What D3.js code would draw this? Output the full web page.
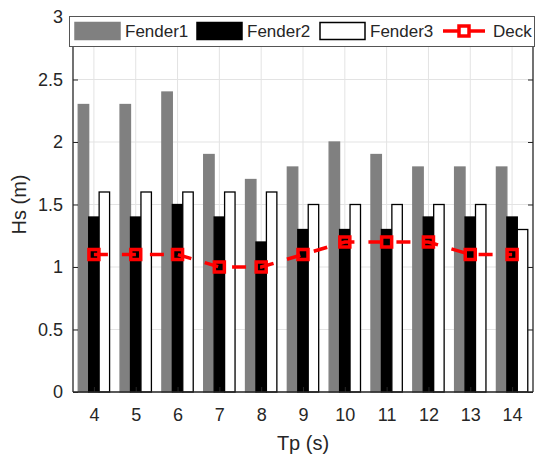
<!DOCTYPE html>
<html>
<head>
<meta charset="utf-8">
<script src="https://cdn.jsdelivr.net/npm/d3@7"></script>
<style>
  body { margin: 0; background: #fff; }
  text { font-family: "Liberation Sans", Arial, sans-serif; fill: #262626; }
</style>
</head>
<body>
<div id="chart"></div>
<script>
// values
const tp = [4, 5, 6, 7, 8, 9, 10, 11, 12, 13, 14];
const fender1 = [2.3, 2.3, 2.4, 1.9, 1.7, 1.8, 2.0, 1.9, 1.8, 1.8, 1.8];
const fender2 = [1.4, 1.4, 1.5, 1.4, 1.2, 1.3, 1.3, 1.3, 1.4, 1.4, 1.4];
const fender3 = [1.6, 1.6, 1.6, 1.6, 1.6, 1.5, 1.5, 1.5, 1.5, 1.5, 1.3];
const deck = [1.1, 1.1, 1.1, 1.0, 1.0, 1.1, 1.2, 1.2, 1.2, 1.1, 1.1];
const seriesNames = ["Fender1", "Fender2", "Fender3", "Deck"];
const yTicks = [0, 0.5, 1, 1.5, 2, 2.5, 3];

const width = 536, height = 457;
const pLeft = 73, pRight = 533, pTop = 17, pBottom = 392;

let svg = d3.select("#chart")
    .append("svg")
    .attr("width", width)
    .attr("height", height);

let x = d3.scaleLinear().domain([3.5, 14.5]).range([pLeft, pRight]);
let y = d3.scaleLinear().domain([0, 3]).range([pBottom, pTop]);

// grid
svg.append("g").selectAll("line").data(tp).enter().append("line")
    .attr("x1", d => x(d)).attr("x2", d => x(d))
    .attr("y1", pTop).attr("y2", pBottom)
    .attr("stroke", "#e3e3e3");
svg.append("g").selectAll("line").data(yTicks).enter().append("line")
    .attr("x1", pLeft).attr("x2", pRight)
    .attr("y1", d => y(d)).attr("y2", d => y(d))
    .attr("stroke", "#e3e3e3");

// bars
const barW = 0.25;
const bars = [
    { vals: fender1, off: -barW, fill: "#808080", stroke: "#808080" },
    { vals: fender2, off: 0, fill: "#000000", stroke: "#000000" },
    { vals: fender3, off: barW, fill: "#ffffff", stroke: "#000000" }
];
bars.forEach(s => {
    svg.append("g").selectAll("rect").data(tp).enter().append("rect")
        .attr("x", d => x(d + s.off - barW / 2))
        .attr("width", x(barW) - x(0))
        .attr("y", (d, i) => y(s.vals[i]))
        .attr("height", (d, i) => y(0) - y(s.vals[i]))
        .attr("fill", s.fill)
        .attr("stroke", s.stroke)
        .attr("stroke-width", 1.3);
});

// axes
let yAxis = d3.axisLeft(y).tickValues(yTicks).tickSize(-5).tickPadding(10)
    .tickFormat(d3.format("~g"));
let gy = svg.append("g").attr("transform", `translate(${pLeft},0)`).call(yAxis);
let gyr = svg.append("g").attr("transform", `translate(${pRight},0)`)
    .call(d3.axisRight(y).tickValues(yTicks).tickSize(-5).tickFormat(""));
let xAxis = d3.axisBottom(x).tickValues(tp).tickSize(-5).tickPadding(16);
let gx = svg.append("g").attr("transform", `translate(0,${pBottom})`).call(xAxis);
let gxt = svg.append("g").attr("transform", `translate(0,${pTop})`)
    .call(d3.axisTop(x).tickValues(tp).tickSize(-5).tickFormat(""));
[gy, gyr, gx, gxt].forEach(g => {
    g.selectAll("path").attr("stroke", "#262626").attr("stroke-width", 1.3);
    g.selectAll("line").attr("stroke", "#262626");
    g.selectAll("text").style("font-size", "18px").attr("fill", "#262626")
        .style("font-family", "'Liberation Sans', Arial, sans-serif");
    g.selectAll("path").attr("d", g === gy || g === gyr ? `M0,${pTop}V${pBottom}` : `M${pLeft},0H${pRight}`);
});

// deck line
let line = d3.line().x(d => x(d[0])).y(d => y(d[1]));
svg.append("path")
    .datum(tp.map((t, i) => [t, deck[i]]))
    .attr("d", line)
    .attr("fill", "none")
    .attr("stroke", "#ff0000")
    .attr("stroke-width", 3.5)
    .attr("stroke-dasharray", "14,14");
svg.append("g").selectAll("rect").data(tp).enter().append("rect")
    .attr("x", d => x(d) - 5)
    .attr("y", (d, i) => y(deck[i]) - 5)
    .attr("width", 10).attr("height", 10)
    .attr("fill", "none")
    .attr("stroke", "#ff0000")
    .attr("stroke-width", 3.5);

// axis labels
svg.append("text")
    .attr("transform", `translate(26,${(pTop + pBottom) / 2}) rotate(-90)`)
    .attr("text-anchor", "middle")
    .style("font-size", "20px")
    .text("Hs (m)");
svg.append("text")
    .attr("x", (pLeft + pRight) / 2).attr("y", 450)
    .attr("text-anchor", "middle")
    .style("font-size", "20px")
    .text("Tp (s)");

// legend
let legend = svg.append("g");
legend.append("rect")
    .attr("x", 69.5).attr("y", 16.5)
    .attr("width", 465).attr("height", 30)
    .attr("fill", "#fff").attr("stroke", "#555");
const legendX = [75, 197, 320, 443];
bars.forEach((s, i) => {
    legend.append("rect")
        .attr("x", legendX[i]).attr("y", 22.5)
        .attr("width", 45).attr("height", 17)
        .attr("fill", s.fill).attr("stroke", s.stroke).attr("stroke-width", 1.5);
});
legend.append("line")
    .attr("x1", legendX[3]).attr("x2", legendX[3] + 42)
    .attr("y1", 31).attr("y2", 31)
    .attr("stroke", "#ff0000").attr("stroke-width", 3.5);
legend.append("rect")
    .attr("x", legendX[3] + 16).attr("y", 26)
    .attr("width", 10).attr("height", 10)
    .attr("fill", "#fff").attr("stroke", "#ff0000").attr("stroke-width", 3.5);
seriesNames.forEach((n, i) => {
    legend.append("text")
        .attr("x", legendX[i] + 50)
        .attr("y", 37)
        .style("font-size", "17px")
        .text(n);
});
</script>
</body>
</html>
